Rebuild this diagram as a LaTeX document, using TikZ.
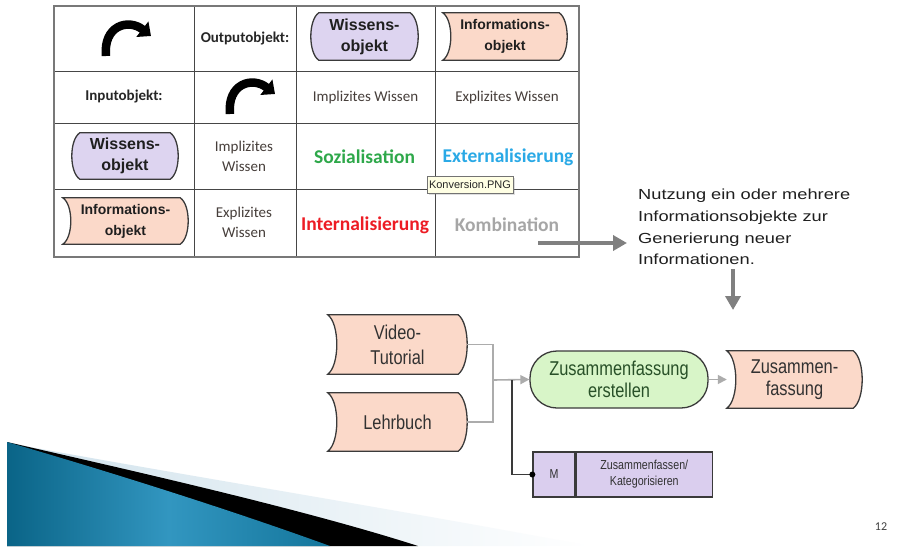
\documentclass[tikz,border=0pt]{standalone}
\usepackage{fontspec}
\setmainfont{Liberation Sans}
\newfontfamily\calfont{Carlito}
\newfontfamily\narrowfont[FakeStretch=0.82]{Liberation Sans}
\newfontfamily\widefont[FakeStretch=1.25]{Liberation Sans}
\usetikzlibrary{arrows.meta,calc,backgrounds,shadows}

\definecolor{wfill}{RGB}{221,212,240}
\definecolor{ifill}{RGB}{251,217,201}
\definecolor{gfill}{RGB}{216,245,200}
\definecolor{mfill}{RGB}{218,206,238}
\definecolor{objdraw}{RGB}{58,58,58}
\definecolor{gridcol}{RGB}{70,70,70}
\definecolor{bordercol}{RGB}{120,120,120}
\definecolor{labcol}{RGB}{70,62,58}
\definecolor{sozcol}{RGB}{46,168,74}
\definecolor{extcol}{RGB}{42,169,230}
\definecolor{intcol}{RGB}{237,28,36}
\definecolor{kombcol}{RGB}{166,166,166}
\definecolor{bigarrowcol}{RGB}{128,128,128}
\definecolor{joincol}{RGB}{172,172,172}
\definecolor{diatext}{RGB}{50,50,50}
\definecolor{greentext}{RGB}{40,80,40}
\definecolor{tipfill}{RGB}{255,255,228}
\definecolor{tealdark}{RGB}{10,100,135}
\definecolor{teallight}{RGB}{50,150,192}
\definecolor{tealmid}{RGB}{20,118,156}
\definecolor{paleband}{RGB}{208,226,236}

% outline of a knowledge object: both sides bulge outwards
\newcommand\wform[2]{%
  \draw[objline,fill=wfill] let \p1=(#1.north west), \p2=(#1.south east), \n1={\y1-\y2} in
    ({\x1+#2pt},\y1) -- ({\x2-#2pt},\y1)
    .. controls ({\x2+#2pt/3},{\y1-0.15*\n1}) and ({\x2+#2pt/3},{\y2+0.15*\n1}) .. ({\x2-#2pt},\y2)
    -- ({\x1+#2pt},\y2)
    .. controls ({\x1-#2pt/3},{\y2+0.15*\n1}) and ({\x1-#2pt/3},{\y1-0.15*\n1}) .. cycle;}

% outline of an information object: left side hollow, right side bulging
\newcommand\iform[2]{%
  \draw[objline,fill=ifill] let \p1=(#1.north west), \p2=(#1.south east), \n1={\y1-\y2} in
    (\x1,\y1) -- ({\x2-#2pt},\y1)
    .. controls ({\x2+#2pt/3},{\y1-0.15*\n1}) and ({\x2+#2pt/3},{\y2+0.15*\n1}) .. ({\x2-#2pt},\y2)
    -- (\x1,\y2)
    .. controls ({\x1+4*#2pt/3},{\y2+0.15*\n1}) and ({\x1+4*#2pt/3},{\y1-0.15*\n1}) .. cycle;}

\begin{document}
\begin{tikzpicture}[x=1pt,y=-1pt,
  objline/.style={draw=objdraw,line width=1.3pt},
  objtext/.style={inner sep=0pt,align=center,text=black!88},
  tabobj/.style={objtext,font=\bfseries\fontsize{16}{21}\selectfont},
  tabinfo/.style={objtext,font=\bfseries\fontsize{14}{21}\selectfont},
  headlab/.style={inner sep=0pt,align=center,text=black!85,font=\calfont\bfseries\fontsize{15}{18}\selectfont},
  celllab/.style={inner sep=0pt,align=center,text=labcol,font=\calfont\fontsize{15}{20}\selectfont},
  convlab/.style={inner sep=0pt,font=\calfont\bfseries\fontsize{19.5}{22}\selectfont},
  diaobj/.style={objtext,text=diatext,font=\narrowfont\fontsize{20}{25}\selectfont},
  bigarrow/.style={draw=bigarrowcol,line width=4pt,-{Triangle[length=14pt,width=15pt]}},
  joinline/.style={draw=joincol,line width=1.6pt},
  joinarrow/.style={joinline,-{Triangle[length=9pt,width=9pt]}},
  gridline/.style={draw=gridcol,line width=0.9pt},
  turnarrow/.pic={\draw[line width=8.5pt,-{Triangle[length=11pt,width=19pt]}]
      (0,0) .. controls (-3,-30) and (22,-38) .. (45,-20);}
]
\useasboundingbox (0,0) rectangle (915,546);
\begin{scope}[on background layer]
  \fill[white] (0,0) rectangle (915,546);
\end{scope}

% ---------- slide decoration, lower left ----------
\shade[left color=paleband,right color=white] (30,447) .. controls (200,478) and (400,510) .. (590,546) -- (7,546) -- (7,442) -- cycle;
\fill[black] (7,442) .. controls (120,468) and (300,508) .. (418,546) -- (7,546) -- cycle;
\shade[left color=tealdark,right color=tealmid,middle color=teallight] (7,442) .. controls (90,466) and (220,506) .. (330,546) -- (7,546) -- cycle;

% ---------- conversion table ----------
\foreach \yy in {71,123,189} \draw[gridline] (54,\yy) -- (579,\yy);
\foreach \xx in {194,296,435} \draw[gridline] (\xx,6) -- (\xx,257);
\draw[draw=bordercol,line width=1.6pt] (54,6) rectangle (579,257);

\pic at (106,56) {turnarrow};
\pic at (230,114) {turnarrow};

\node[headlab] (outlab) at (245,38.5) {Outputobjekt:};
\node[headlab] (inlab) at (124,97) {Inputobjekt:};

\node[tabobj,minimum width=107pt,minimum height=47pt] (w1) at (364.5,36.5) {Wissens-\\objekt};
\node[tabinfo,minimum width=124pt,minimum height=47pt] (i1) at (505,36.5) {Informations-\\objekt};
\node[tabobj,minimum width=106pt,minimum height=46pt] (w2) at (125,156) {Wissens-\\objekt};
\node[tabinfo,minimum width=125pt,minimum height=46pt] (i2) at (125.5,221) {Informations-\\objekt};

\node[celllab] (impl1) at (365.5,97) {Implizites Wissen};
\node[celllab] (expl1) at (507,97) {Explizites Wissen};
\node[celllab] (impl2) at (244,156) {Implizites\\Wissen};
\node[celllab] (expl2) at (244,222) {Explizites\\Wissen};

\node[convlab,text=sozcol] (soz) at (364.5,157) {Sozialisation};
\node[convlab,text=extcol] (ext) at (508,157) {Externalisierung};
\node[convlab,text=intcol] (int) at (365,225) {Internalisierung};
\node[convlab,text=kombcol] (komb) at (507,225) {Kombination};

\node[draw=black!55,fill=tipfill,line width=0.6pt,inner sep=0pt,minimum width=86pt,minimum height=17pt,
      font=\fontsize{11}{13}\selectfont,text=black!85,
      drop shadow={shadow xshift=1.5pt,shadow yshift=-1.5pt,opacity=0.25}] (tip) at (470,184.5) {Konversion.PNG};

% ---------- explanation ----------
\node[anchor=north west,inner sep=0pt,align=left,text=black!88,
      font=\widefont\fontsize{14.6}{21.7}\selectfont] (nutz) at (638,189)
  {Nutzung ein oder mehrere\\Informationsobjekte zur\\Generierung neuer\\Informationen.};
\coordinate (ka) at (538,243);
\coordinate (db) at (733,310);
\draw[bigarrow] (ka) -- ($(nutz.west |- ka)+(-11,0)$);
\draw[bigarrow] ($(nutz.south -| db)+(0,4)$) -- (db);

% ---------- process chain ----------
\node[diaobj,minimum width=139pt,minimum height=59pt] (vid) at (397.5,344.5) {Video-\\Tutorial};
\node[diaobj,minimum width=139pt,minimum height=58pt] (leh) at (397.5,422) {Lehrbuch};
\node[objline,fill=gfill,rounded corners=27pt,inner sep=0pt,align=center,text=greentext,
      font=\narrowfont\fontsize{20}{22}\selectfont,minimum width=178pt,minimum height=57pt] (zf) at (619,379.5)
  {Zusammenfassung\\erstellen};
\node[diaobj,font=\narrowfont\fontsize{20}{22}\selectfont,minimum width=135pt,minimum height=57pt] (out) at (794.5,379.5) {Zusammen-\\fassung};
\node[objline,fill=mfill,inner sep=0pt,minimum width=42pt,minimum height=45pt,text=diatext,
      font=\narrowfont\fontsize{13}{16}\selectfont] (mm) at (554,474.5) {M};
\node[objline,fill=mfill,inner sep=0pt,minimum width=136pt,minimum height=45pt,align=center,text=diatext,
      font=\narrowfont\fontsize{13}{16}\selectfont,anchor=west] (mt) at (mm.east) {Zusammenfassen/\\Kategorisieren};

\coordinate (jn) at (493,380);
\coordinate (mj) at (512,380);
\draw[joinline] (vid.east) -| (jn);
\draw[joinline] (leh.east) -| (jn);
\draw[joinarrow] (jn) -- (zf.west);
\draw[joinarrow] (zf.east) -- (out.west);
\draw[draw=objdraw,line width=1.5pt] (mj) |- (mm.west);
\fill[black] (mm.west) circle (3pt);

\node[inner sep=0pt,text=black!75,font=\calfont\fontsize{12}{14}\selectfont] (pnum) at (881,527) {12};

% ---------- object outlines behind their labels ----------
\begin{scope}[on background layer]
  \wform{w1}{8}
  \iform{i1}{8}
  \wform{w2}{8}
  \iform{i2}{8}
  \iform{vid}{9}
  \iform{leh}{9}
  \iform{out}{9}
\end{scope}
\end{tikzpicture}
\end{document}
